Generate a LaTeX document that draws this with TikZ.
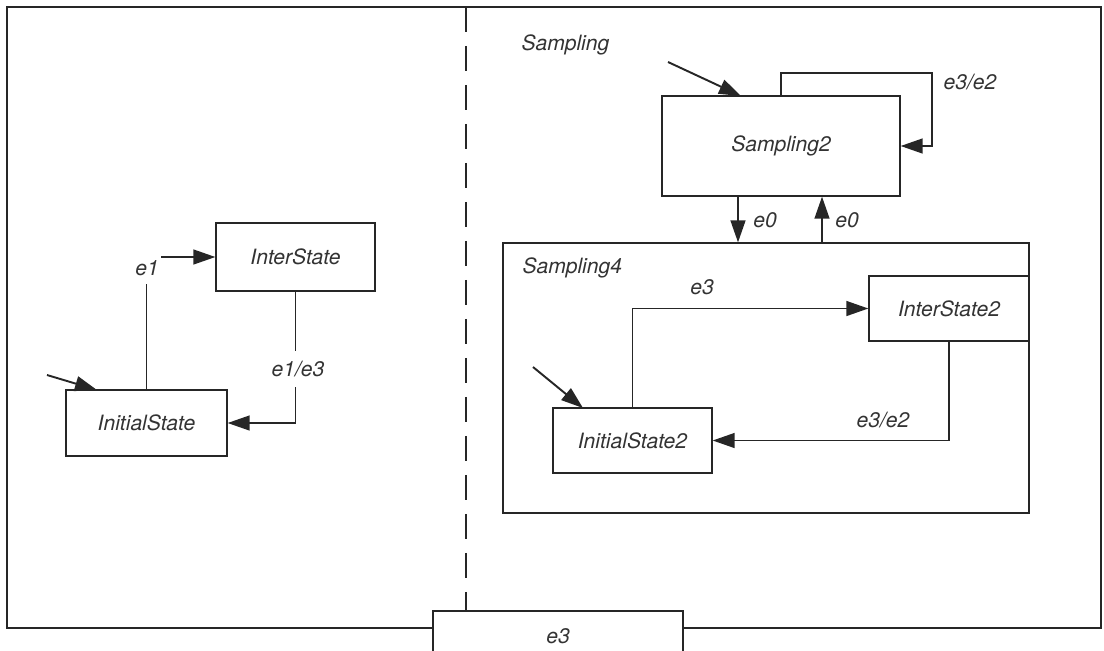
\documentclass[tikz,border=0pt]{standalone}
\usepackage{fontspec}
\setmainfont{TeX Gyre Heros}
\usetikzlibrary{arrows.meta}

\begin{document}
\begin{tikzpicture}[x=0.02cm,y=-0.02cm,line width=0.8pt,draw=black!85,
  every node/.style={font=\fontsize{12}{14}\selectfont\itshape,text=black!80},
  state/.style={draw,fill=white,inner sep=0pt},
  trans/.style={-{Triangle[length=0.44cm,width=0.3cm]}},
  initarr/.style={trans,line width=1.1pt},
  lbl/.style={fill=white,inner xsep=1.5pt,inner ysep=5pt}]
\useasboundingbox (0,0) rectangle (1104,650);
    \draw (7,7) rectangle (1101,628);
    \draw[dash pattern=on 0.5cm off 0.28cm] (466,7) -- (466,611);
    \node[state,minimum width=5cm,minimum height=1cm] (e3box) at (558,636) {e3};
    % left part
    \node[state,minimum width=3.22cm,minimum height=1.32cm] (InitState) at (146.5,423) {InitialState};
    \node[state,minimum width=3.18cm,minimum height=1.36cm] (InterState) at (295.5,257) {InterState};
    \coordinate (init1) at (47,375);
    \draw[initarr] (init1) -- (97,390);
    \draw[trans] (InitState.north) |- (InterState.west);
    \draw[trans] (InterState.south) |- (InitState.east);
    \node[lbl] (e1) at (147,268) {e1};
    \node[lbl,inner ysep=0.2cm] (e1e3) at (298,369) {e1/e3};
    % right part
    \node[anchor=west] (Sampling) at (515,45) {Sampling};
    \node[state,minimum width=4.76cm,minimum height=2cm] (Sampling2) at (781,146) {Sampling2};
    \node[draw,minimum width=10.52cm,minimum height=5.4cm] (Sampling4) at (766,378) {};
    \node[anchor=west] (Sampling4lbl) at (516,268) {Sampling4};
    \coordinate (init2) at (668,62);
    \draw[initarr] (init2) -- (741,96);
    \coordinate (loopA) at (781,73);
    \coordinate (loopB) at (932,73);
    \draw[trans] (Sampling2.north) -- (loopA) -- (loopB) |- (Sampling2.east);
    \node (e3e2a) at (970,82) {e3/e2};
    \draw[trans] (Sampling2.south -| 738,0) -- (Sampling4.north -| 738,0);
    \draw[trans] (Sampling4.north -| 822,0) -- (Sampling2.south -| 822,0);
    \node (e0a) at (765,220) {e0};
    \node (e0b) at (847,220) {e0};
    \node[state,minimum width=3.18cm,minimum height=1.3cm] (InitState2) at (632.5,440.5) {InitialState2};
    \node[state,minimum width=3.2cm,minimum height=1.3cm] (InterState2) at (949,308.5) {InterState2};
    \coordinate (init3) at (533,367);
    \draw[initarr] (init3) -- (583,408);
    \draw[trans] (InitState2.north) |- (InterState2.west);
    \draw[trans] (InterState2.south) |- (InitState2.east);
    \node (e3) at (702,287) {e3};
    \node (e3e2b) at (883,420) {e3/e2};
\end{tikzpicture}
\end{document}
